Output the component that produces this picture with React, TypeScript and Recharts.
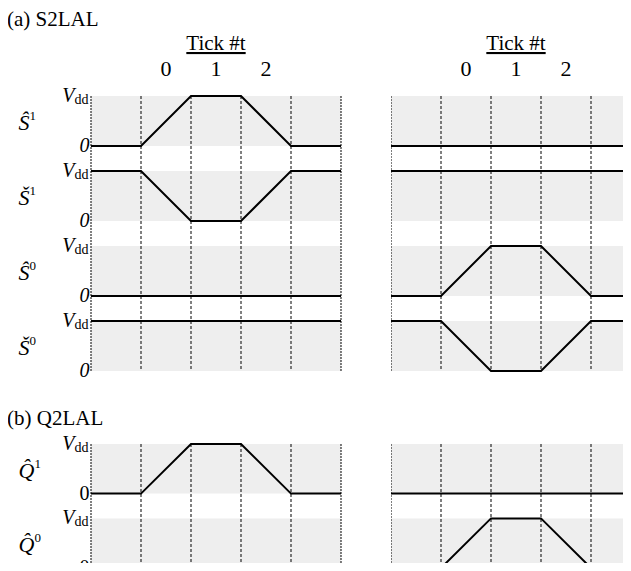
import React from 'react';
import { LineChart, Line, XAxis, YAxis, ReferenceArea, ReferenceLine } from 'recharts';

const FONT = "'Liberation Serif', Tinos, 'Times New Roman', Times, 'DejaVu Serif', serif";

// time grid: 5 half-tick slots between 6 boundaries
const timePoints = [0, 1, 2, 3, 4, 5];
const tickPositions = [1.5, 2.5, 3.5];
const tickLabels = ['0', '1', '2'];

// (a) S2LAL — 0 = ground, 1 = Vdd
const sHat1Left = [0, 0, 1, 1, 0, 0];
const sCheck1Left = [1, 1, 0, 0, 1, 1];
const sHat0Left = [0, 0, 0, 0, 0, 0];
const sCheck0Left = [1, 1, 1, 1, 1, 1];

const sHat1Right = [0, 0, 0, 0, 0, 0];
const sCheck1Right = [1, 1, 1, 1, 1, 1];
const sHat0Right = [0, 0, 1, 1, 0, 0];
const sCheck0Right = [1, 1, 0, 0, 1, 1];

// (b) Q2LAL
const qHat1Left = [0, 0, 1, 1, 0, 0];
const qHat0Left = [0, 0, 0, 0, 0, 0];
const qHat1Right = [0, 0, 0, 0, 0, 0];
const qHat0Right = [0, 0, 1, 1, 0, 0];

const namesA = [['\u015C', '1'], ['\u0160', '1'], ['\u015C', '0'], ['\u0160', '0']];
const namesB = [['Q\u0302', '1'], ['Q\u0302', '0']];

const ROW_STEP = 1.5; // row height 1 + gap 0.5

const WavePanel = ({ left, top, width, height, marginTop, marginBottom, series, names, showY, showX, italicZero }) => {
  const n = series.length;
  const bases = series.map((_, i) => (n - 1 - i) * ROW_STEP);
  const yMax = (n - 1) * ROW_STEP + 1;
  const data = timePoints.map((t, j) => {
    const row = { t };
    series.forEach((s, i) => {
      row['s' + i] = bases[i] + s[j];
    });
    return row;
  });
  const yTicks = [];
  bases.forEach((b) => yTicks.push(b, b + 0.5, b + 1));

  const renderYTick = (props) => {
    const { y, payload } = props;
    const v = payload.value;
    const row = bases.findIndex((b) => v >= b - 1e-6 && v <= b + 1 + 1e-6);
    if (row < 0) return null;
    const level = v - bases[row];
    if (Math.abs(level - 0.5) < 1e-6) {
      const [sym, sup] = names[row];
      return (
        <text x={17.5} y={y + 9} fontFamily={FONT} fontSize={22} fontStyle="italic" fill="#000">
          {sym}
          <tspan fontSize={13} fontStyle="normal" dy={-10}>{sup}</tspan>
        </text>
      );
    }
    if (level > 0.5) {
      return (
        <text x={87.5} y={y} dy={6} textAnchor="end" fontFamily={FONT} fill="#000">
          <tspan fontSize={20} fontStyle="italic">V</tspan>
          <tspan fontSize={14} dy={2}>dd</tspan>
        </text>
      );
    }
    return (
      <text x={88.5} y={y} dy={6} textAnchor="end" fontFamily={FONT} fontSize={20}
        fontStyle={italicZero ? 'italic' : 'normal'} fill="#000">
        0
      </text>
    );
  };

  const renderXTick = (props) => {
    const { x, index } = props;
    return (
      <text x={x} y={76} textAnchor="middle" fontFamily={FONT} fontSize={22} fill="#000">
        {tickLabels[index]}
      </text>
    );
  };

  const renderXTitle = (props) => {
    const vb = props.viewBox;
    return (
      <text x={vb.x + vb.width / 2} y={50} textAnchor="middle" fontFamily={FONT} fontSize={21}
        fill="#000" style={{ textDecoration: 'underline' }}>
        Tick #t
      </text>
    );
  };

  return (
    <div style={{ position: 'absolute', left, top }}>
      <LineChart width={width} height={height} data={data}
        margin={{ top: marginTop, right: 1, bottom: marginBottom, left: 0 }}>
        <XAxis dataKey="t" type="number" domain={[0, 5]} orientation="top"
          ticks={tickPositions} axisLine={false} tickLine={false} height={66}
          hide={!showX} tick={renderXTick} interval={0}
          label={{ content: renderXTitle }} />
        <YAxis type="number" domain={[0, yMax]} ticks={yTicks} width={showY ? 90 : 0}
          hide={!showY} axisLine={false} tickLine={false} tick={renderYTick} interval={0} />
        {bases.map((b, i) => (
          <ReferenceArea key={'band' + i} y1={b} y2={b + 1} fill="#eeeeee" fillOpacity={1}
            stroke="none" ifOverflow="visible" />
        ))}
        {timePoints.map((t) => (
          <ReferenceLine key={'v' + t} x={t} stroke="#000" strokeWidth={1}
            strokeDasharray={t === 0 || t === 5 ? '2 1' : '3 2'} ifOverflow="visible" />
        ))}
        {series.map((_, i) => (
          <Line key={'l' + i} type="linear" dataKey={'s' + i} stroke="#000" strokeWidth={2}
            dot={false} activeDot={false} isAnimationActive={false} />
        ))}
      </LineChart>
    </div>
  );
};

export default function App() {
  const seriesALeft = [sHat1Left, sCheck1Left, sHat0Left, sCheck0Left];
  const seriesARight = [sHat1Right, sCheck1Right, sHat0Right, sCheck0Right];
  const seriesBLeft = [qHat1Left, qHat0Left];
  const seriesBRight = [qHat1Right, qHat0Right];

  return (
    <div style={{ position: 'relative', width: 631, height: 571, margin: -8, overflow: 'hidden', background: '#fff' }}>
      <svg width={631} height={571} style={{ position: 'absolute', left: 0, top: 0 }}>
        <text x={7} y={26} fontFamily={FONT} fontSize={21} fill="#000">(a) S2LAL</text>
        <text x={7} y={425} fontFamily={FONT} fontSize={21} fill="#000">(b) Q2LAL</text>
      </svg>
      <WavePanel left={0.5} top={0} width={341} height={386} marginTop={30} marginBottom={15}
        series={seriesALeft} names={namesA} showY showX italicZero />
      <WavePanel left={390.5} top={0} width={251} height={386} marginTop={30} marginBottom={15}
        series={seriesARight} names={namesA} showY={false} showX italicZero />
      <WavePanel left={0.5} top={430} width={341} height={150} marginTop={14} marginBottom={12}
        series={seriesBLeft} names={namesB} showY showX={false} italicZero={false} />
      <WavePanel left={390.5} top={430} width={251} height={150} marginTop={14} marginBottom={12}
        series={seriesBRight} names={namesB} showY={false} showX={false} italicZero={false} />
    </div>
  );
}
